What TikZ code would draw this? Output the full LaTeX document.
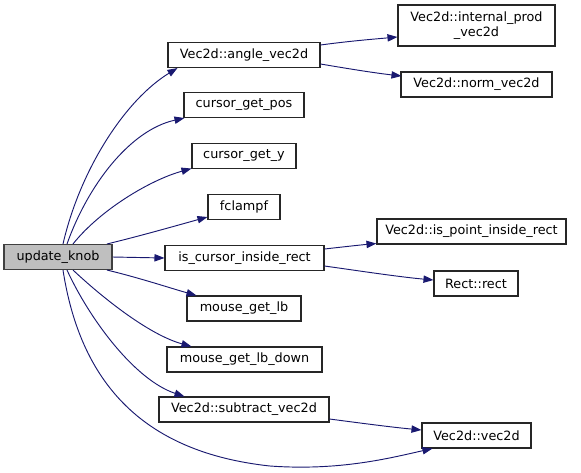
\documentclass[tikz,border=0pt]{standalone}
\usepackage{fontspec}
\setmainfont{DejaVu Sans}
\usetikzlibrary{arrows.meta,calc}
\definecolor{edgecol}{HTML}{191970}
\definecolor{rootfill}{HTML}{BFBFBF}
\begin{document}
\begin{tikzpicture}[x=0.75pt,y=-0.75pt,
  fn/.style={draw=black!85,line width=0.8pt,fill=white,inner sep=0pt,minimum height=18.75pt,font=\fontsize{9.6pt}{11pt}\selectfont,align=center},
  root/.style={fn,fill=rootfill,draw=black!75},
  e/.style={draw=edgecol,line width=0.7pt,-{Triangle[length=7.5pt,width=5.5pt]}}]
\useasboundingbox (0,0) rectangle (581,472);
% nodes
\node[root,minimum width=81pt] (uk) at (58,257) {update\_knob};
\node[fn,minimum width=114pt] (av) at (244,55) {Vec2d::angle\_vec2d};
\node[fn,minimum width=90pt] (cgp) at (244,105) {cursor\_get\_pos};
\node[fn,minimum width=78pt] (cgy) at (244,156) {cursor\_get\_y};
\node[fn,minimum width=54pt] (fc) at (244,207) {fclampf};
\node[fn,minimum width=119.25pt] (icir) at (244.5,258) {is\_cursor\_inside\_rect};
\node[fn,minimum width=85.5pt] (mgl) at (244,308.5) {mouse\_get\_lb};
\node[fn,minimum width=116.25pt] (mgld) at (244.5,359.5) {mouse\_get\_lb\_down};
\node[fn,minimum width=127.5pt] (sub) at (244,409.5) {Vec2d::subtract\_vec2d};
\node[fn,minimum width=81.75pt] (v2) at (476.5,435.5) {Vec2d::vec2d};
\node[fn,minimum width=117.75pt,minimum height=30.75pt] (ip) at (476.5,25.5) {Vec2d::internal\_prod\\\_vec2d};
\node[fn,minimum width=113.25pt] (nv) at (476.5,84.5) {Vec2d::norm\_vec2d};
\node[fn,minimum width=141.75pt] (ipr) at (471.5,231.5) {Vec2d::is\_point\_inside\_rect};
\node[fn,minimum width=63pt] (rr) at (476,283.5) {Rect::rect};
% edges from update_knob
\draw[e] ($(uk.north)+(5,0)$) .. controls (80,170) and (125,100) .. ($(av.south west)+(10,0)$);
\draw[e] ($(uk.north)+(9,0)$) .. controls (88,185) and (130,130) .. ($(cgp.south west)+(1,0)$);
\draw[e] ($(uk.north)+(15,0)$) .. controls (100,210) and (150,180) .. ($(cgy.south west)+(0,-0.5)$);
\draw[e] ($(uk.north)+(49,0)$) .. controls (140,236) and (175,226) .. ($(fc.west)+(0,10)$);
\draw[e] (uk.east) -- (icir.west);
\draw[e] ($(uk.south)+(49,0)$) .. controls (140,278) and (170,288) .. ($(mgl.north west)+(10,0)$);
\draw[e] ($(uk.south)+(15,0)$) .. controls (105,300) and (150,335) .. ($(mgld.north west)+(25,0)$);
\draw[e] ($(uk.south)+(9,0)$) .. controls (90,320) and (135,380) .. ($(sub.north west)+(26,0)$);
\draw[e] ($(uk.south)+(5,0)$) .. controls (80,380) and (140,452) .. (270,466) .. controls (340,471) and (390,458) .. ($(v2.south west)+(11,0)$);
% right column
\draw[e] ($(av.east)+(0,-10)$) .. controls (350,41) and (375,39) .. ($(ip.west)+(0,11.5)$);
\draw[e] ($(av.east)+(0,9)$) .. controls (350,69) and (375,73) .. ($(nv.west)+(1,-8.5)$);
\draw[e] ($(icir.east)+(0,-9)$) .. controls (342,247) and (360,245) .. ($(ipr.south west)+(0,-1)$);
\draw[e] ($(icir.east)+(0,8)$) .. controls (360,271) and (400,277) .. ($(rr.west)+(0,-3.5)$);
\draw[e] ($(sub.east)+(0,9.5)$) .. controls (360,423) and (390,427) .. ($(v2.west)+(0,-5.5)$);
\end{tikzpicture}
\end{document}
